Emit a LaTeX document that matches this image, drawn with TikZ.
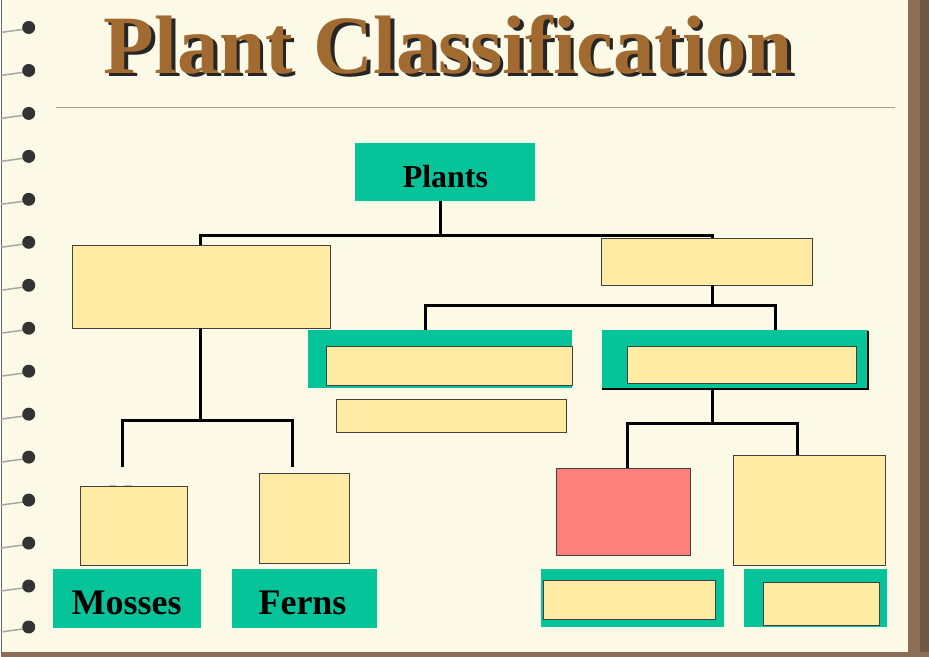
\documentclass[tikz,border=0pt]{standalone}
\usepackage{fontspec}
\setmainfont{Liberation Serif}
\definecolor{paper}{HTML}{FCFAE6}
\definecolor{grn}{HTML}{05C499}
\definecolor{yel}{HTML}{FFEBA3}
\definecolor{redb}{HTML}{FF7F7A}
\definecolor{brn}{HTML}{8B6E55}
\definecolor{ttl}{HTML}{A06A30}
\begin{document}
\begin{tikzpicture}[x=1pt,y=-1pt,
  gbox/.style={fill=grn,draw=none},
  ybox/.style={fill=yel,draw=black!75,line width=0.8pt},
  rbox/.style={fill=redb,draw=black!75,line width=0.8pt},
  conn/.style={line width=3pt,black},
  lbl/.style={font=\bfseries\fontsize{36}{36}\selectfont}]
\fill[paper] (0,0) rectangle (929,657);
\fill[brn] (908,0) rectangle (929,657);
\fill[brn!80!black] (920,0) rectangle (929,657);
\fill[brn] (0,652) rectangle (929,657);
\draw[black!60,line width=1pt] (1,0) -- (1,652);
\foreach \y in {27,70,113,156,199,242,285,328,371,414,457,500,543,586,627}{
  \draw[gray!70,line width=1.5pt] (0,\y+5) -- (22,\y+2);
  \fill[black!80] (28,\y) circle (6.5);
}
% title
\node (title) [text=ttl,font=\bfseries\fontsize{83}{83}\selectfont] at (448,46) {\makebox[0pt][l]{\kern3.5pt\raisebox{-3.5pt}{\color{black!85}Plant Classification}}Plant Classification};
\draw[brn!70,line width=0.8pt] (55,107) -- (895,107);
% nodes
\path[gbox] (355,143) rectangle (535,201);
\node (plants) [lbl,font=\bfseries\fontsize{32}{32}\selectfont] at (445,176) {Plants};
\coordinate (pb) at (440,201);
\path[ybox] (72,245) rectangle (330,328); \coordinate (lb) at (200,245); \coordinate (lbb) at (200,328);
\path[ybox] (601,238) rectangle (812,285); \coordinate (rb) at (712,238); \coordinate (rbb) at (712,285);
\draw[conn] (pb) -- (440,235);
\draw[conn] (lb) -- (200,235) -- (712,235) -- (rb);
% mid
\path[gbox] (307,330) rectangle (572,388);
\path[ybox] (326,346) rectangle (572,385);
\path[ybox] (336,399) rectangle (566,432);
\path[gbox] (602,330) rectangle (868,389);
\draw[black,line width=2pt] (868,331) -- (868,389) -- (602,389);
\path[ybox] (627,346) rectangle (856,383);
\coordinate (mg) at (425,330); \coordinate (rg) at (775,330);
\draw[conn] (rbb) -- (712,305);
\draw[conn] (mg) -- (425,305) -- (775,305) -- (rg);
% right bottom
\coordinate (rgb) at (712,389);
\draw[conn] (rgb) -- (712,423);
\draw[conn] (627,468) -- (627,423) -- (797,423) -- (797,455);
\path[rbox] (556,468) rectangle (690,555);
\path[ybox] (733,455) rectangle (885,565);
\path[gbox] (541,569) rectangle (724,627);
\path[ybox] (543,580) rectangle (715,619);
\path[gbox] (744,569) rectangle (887,627);
\path[ybox] (763,582) rectangle (879,625);
% left bottom
\draw[conn] (lbb) -- (200,420);
\draw[conn] (122,467) -- (122,420) -- (292,420) -- (292,467);
\node (n) [font=\fontsize{34}{34}\selectfont] at (120,497) {N};
\path[ybox] (80,486) rectangle (187,565);
\path[ybox] (259,473) rectangle (349,563);
\path[gbox] (52,569) rectangle (200,628);
\node (mosses) [lbl] at (126,603) {Mosses};
\path[gbox] (231,569) rectangle (377,628);
\node (ferns) [lbl] at (302,603) {Ferns};
\end{tikzpicture}
\end{document}
